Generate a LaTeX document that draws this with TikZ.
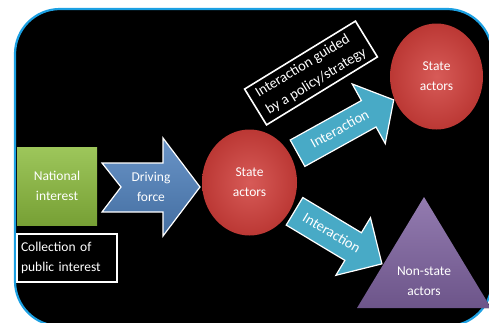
\documentclass[tikz,border=0pt]{standalone}
\usepackage{fontspec}
\setmainfont{Carlito}
\usetikzlibrary{shapes.geometric,shapes.arrows}
\definecolor{frameblue}{RGB}{28,160,226}
\definecolor{natgreen}{RGB}{140,188,62}
\definecolor{driveblue}{RGB}{79,129,189}
\definecolor{interteal}{RGB}{72,170,198}
\definecolor{actorred}{RGB}{208,62,58}
\definecolor{nonpurple}{RGB}{128,100,162}
\begin{document}
\begin{tikzpicture}[x=1pt,y=-1pt,
  txt/.style={text=white,font=\fontsize{13.5}{20}\selectfont,align=center},
  whitebox/.style={draw=white,line width=1.6pt,fill=black},
  actor/.style={ellipse,txt,inner color=actorred!85!white,outer color=actorred!90!black,
    minimum width=95pt,minimum height=106pt},
  inter/.style={single arrow,draw=white,line width=1.2pt,fill=interteal,txt,
    font=\fontsize{14.5}{17}\selectfont,text height=9pt,text depth=1pt,
    inner xsep=2pt,anchor=tail}]
  \useasboundingbox (0,0) rectangle (489,322);
  \begin{scope}
    \clip (0,0) rectangle (489,322);
    \draw[frameblue,line width=2.2pt,fill=black,rounded corners=45pt] (15,9) rectangle (492,326);
  \end{scope}

  \node[txt,top color=natgreen!85!white,bottom color=natgreen!85!black,
    minimum width=80pt,minimum height=78pt] (natint) at (57,186) {National\\interest};
  \node[whitebox,txt,align=left,text width=92pt,inner xsep=4pt,minimum height=48pt]
    (collect) at (67,258) {Collection of\\public interest};

  \draw[draw=white,line width=1.2pt,top color=driveblue!85!white,bottom color=driveblue!85!black]
    (102,163) -- (163,163) -- (163,138) -- (200,187) -- (163,236) -- (163,212) -- (102,212) -- (121,187) -- cycle;
  \node[txt] (drive) at (151,187) {Driving\\force};

  \node[actor] (state) at (249.5,182.5) {State\\actors};
  \node[actor,minimum width=93pt] (state2) at (436.5,76.5) {State\\actors};

  \fill[top color=nonpurple!85!white,bottom color=nonpurple!85!black] (424,197) -- (491,308) -- (357,308) -- cycle;
  \node[txt] (nonstate) at (424,281) {Non-state\\actors};

  \node[inter,rotate=29,inner ysep=9.5pt,minimum height=110pt,single arrow head extend=19pt,
    single arrow tip angle=100] (up) at (297,153.5) {Interaction};
  \node[inter,rotate=-31,inner ysep=10.5pt,minimum height=102pt,single arrow head extend=17.5pt,
    single arrow tip angle=90] (down) at (294,211) {Interaction};

  \node[whitebox,txt,align=left,font=\fontsize{14.5}{20}\selectfont,rotate=31.5,
    minimum width=130pt,minimum height=42pt] (guide) at (311,73) {Interaction guided\\by a policy/strategy};
\end{tikzpicture}
\end{document}
